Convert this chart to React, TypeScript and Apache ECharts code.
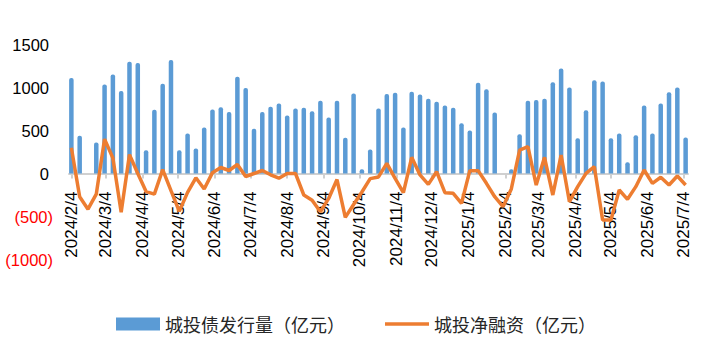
import React, { useEffect, useRef } from "react";
import * as echarts from "echarts";

const WEEKS = [
  "2024-02-04", "2024-02-11", "2024-02-18", "2024-02-25",
  "2024-03-03", "2024-03-10", "2024-03-17", "2024-03-24", "2024-03-31",
  "2024-04-07", "2024-04-14", "2024-04-21", "2024-04-28",
  "2024-05-05", "2024-05-12", "2024-05-19", "2024-05-26",
  "2024-06-02", "2024-06-09", "2024-06-16", "2024-06-23", "2024-06-30",
  "2024-07-07", "2024-07-14", "2024-07-21", "2024-07-28",
  "2024-08-04", "2024-08-11", "2024-08-18", "2024-08-25",
  "2024-09-01", "2024-09-08", "2024-09-15", "2024-09-22", "2024-09-29",
  "2024-10-06", "2024-10-13", "2024-10-20", "2024-10-27",
  "2024-11-03", "2024-11-10", "2024-11-17", "2024-11-24",
  "2024-12-01", "2024-12-08", "2024-12-15", "2024-12-22", "2024-12-29",
  "2025-01-05", "2025-01-12", "2025-01-19", "2025-01-26",
  "2025-02-02", "2025-02-09", "2025-02-16", "2025-02-23",
  "2025-03-02", "2025-03-09", "2025-03-16", "2025-03-23", "2025-03-30",
  "2025-04-06", "2025-04-13", "2025-04-20", "2025-04-27",
  "2025-05-04", "2025-05-11", "2025-05-18", "2025-05-25",
  "2025-06-01", "2025-06-08", "2025-06-15", "2025-06-22", "2025-06-29",
  "2025-07-06",
];

// 城投债发行量（亿元）
const ISSUANCE: (number | null)[] = [
  1110, 440, null, 360,
  1035, 1150, 960, 1300, 1285,
  270, 740, 1045, 1320,
  270, 465, 290, 535,
  745, 770, 715, 1125, 995,
  520, 715, 775, 815,
  675, 755, 765, 725,
  845, 650, 845, 415, 930,
  50, 280, 755, 925,
  940, 535, 950, 920,
  870, 835, 790, 765, 585,
  500, 1055, 980, 710,
  null, 50, 455, 845,
  855, 870, 1060, 1220, 1000,
  410, 735, 1085, 1070,
  410, 465, 130, 445,
  790, 465, 815, 945, 1000,
  420,
];

// 城投净融资（亿元）
const NET_FINANCING = [
  300, -270, -415, -240,
  400, 180, -450, 220, 0,
  -210, -240, 45, -200,
  -440, -220, -50, -180,
  10, 70, 35, 105, -35,
  0, 35, -15, -55,
  0, 0, -250, -310,
  -445, -290, -70, -510, -360,
  -215, -60, -40, 118,
  -56, -223, 188, -17,
  -126, 21, -223, -231, -347,
  33, 33, -114, -270,
  -386, -180, 273, 312,
  -134, 188, -250, 215, -328,
  -153, 2, 79, -541,
  -541, -192, -300, -153,
  41, -114, -44, -134, -29,
  -134,
];

const X_TICKS = [
  "2024/2/4", "2024/3/4", "2024/4/4", "2024/5/4", "2024/6/4", "2024/7/4",
  "2024/8/4", "2024/9/4", "2024/10/4", "2024/11/4", "2024/12/4", "2025/1/4",
  "2025/2/4", "2025/3/4", "2025/4/4", "2025/5/4", "2025/6/4", "2025/7/4",
];

const X_MIN = "2024-02-02";
const X_MAX = "2025-07-08";
const Y_MIN = -1000;
const Y_MAX = 1500;
const Y_STEP = 500;

const DAY = 86400000;
// day number (days since 1970-01-01 UTC)
const toDay = (s: string) => {
  const p = s.split(/[-/]/).map(Number);
  return Math.round(Date.UTC(p[0], p[1] - 1, p[2]) / DAY);
};
const fmt = (v: number) => {
  const d = new Date(Math.round(v) * DAY);
  return `${d.getUTCFullYear()}/${d.getUTCMonth() + 1}/${d.getUTCDate()}`;
};

const NUM_FONT = "'Liberation Sans', Arial, sans-serif";
const CJK_FONT = "'Noto Sans CJK SC', sans-serif";

const GRID_TOP = 44.5;
const GRID_H = 215;

export default function App() {
  const ref = useRef<HTMLDivElement>(null);
  useEffect(() => {
    if (!ref.current) return;
    const chart = echarts.init(ref.current, null, { renderer: "svg" });
    const tickDays = X_TICKS.map(toDay);
    // shift the x axis from the grid bottom up to the zero level
    const zeroOffset = -GRID_H * (0 - Y_MIN) / (Y_MAX - Y_MIN);
    const legendText = { fontSize: 18, fontFamily: CJK_FONT, color: "#262626" };
    chart.setOption({
      animation: false,
      backgroundColor: "#ffffff",
      grid: { left: 69, top: GRID_TOP, width: 619, height: GRID_H },
      legend: [
        {
          left: 116,
          top: 315,
          padding: 0,
          itemWidth: 44,
          itemHeight: 13,
          textStyle: legendText,
          data: [{ name: "城投债发行量（亿元）", icon: "rect" }],
        },
        {
          left: 385,
          top: 315,
          padding: 0,
          itemWidth: 44,
          itemHeight: 3.5,
          textStyle: legendText,
          data: [{ name: "城投净融资（亿元）", icon: "rect" }],
        },
      ],
      xAxis: {
        type: "value",
        min: toDay(X_MIN),
        max: toDay(X_MAX),
        position: "bottom",
        offset: zeroOffset,
        axisLine: { show: true, onZero: false, lineStyle: { color: "#D0D0D0", width: 2 } },
        axisTick: {
          show: true,
          customValues: tickDays,
          length: 5,
          lineStyle: { color: "#D0D0D0", width: 2 },
        },
        axisLabel: {
          customValues: tickDays,
          rotate: 90,
          margin: 18,
          fontSize: 17,
          fontFamily: NUM_FONT,
          color: "#000",
          formatter: (v: number) => fmt(v),
        },
        splitLine: { show: false },
      },
      yAxis: {
        type: "value",
        min: Y_MIN,
        max: Y_MAX,
        interval: Y_STEP,
        axisLine: { show: false },
        axisTick: { show: false },
        splitLine: { show: false },
        axisLabel: {
          margin: 16,
          formatter: (v: number) => (v < 0 ? `{neg|(${-v})}` : `{pos|${v}}`),
          rich: {
            pos: { fontSize: 16.5, fontFamily: NUM_FONT, color: "#000", padding: [0, 4, 0, 0] },
            neg: { fontSize: 16.5, fontFamily: NUM_FONT, color: "#FF0000" },
          },
        },
      },
      series: [
        {
          type: "bar",
          name: "城投债发行量（亿元）",
          data: WEEKS.map((w, i) => [toDay(w), ISSUANCE[i]]),
          barWidth: 4.5,
          itemStyle: { color: "#5B9BD5", borderRadius: [2, 2, 0, 0] },
          clip: false,
          z: 2,
        },
        {
          type: "line",
          name: "城投净融资（亿元）",
          data: WEEKS.map((w, i) => [toDay(w), NET_FINANCING[i]]),
          symbol: "none",
          lineStyle: { color: "#ED7D31", width: 3.5 },
          itemStyle: { color: "#ED7D31" },
          clip: false,
          z: 3,
        },
      ],
    });
    return () => chart.dispose();
  }, []);
  return (
    <div
      ref={ref}
      style={{ position: "fixed", left: 0, top: 0, width: 709, height: 355, background: "#fff" }}
    />
  );
}
